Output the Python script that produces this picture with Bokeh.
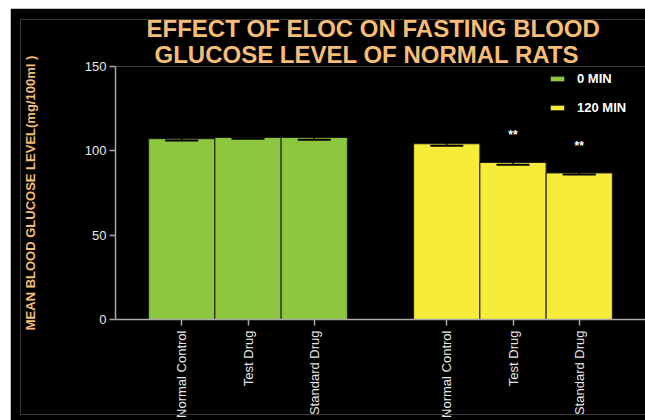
import math

from bokeh.plotting import figure
from bokeh.models import (ColumnDataSource, Whisker, TeeHead, Title, Legend,
                          LegendItem, FixedTicker, InlineStyleSheet)
from bokeh.core.properties import value
from bokeh.embed import file_html
from bokeh.resources import INLINE

# ---- data -------------------------------------------------------------
groups = ["0 MIN", "120 MIN"]
treatments = ["Normal Control", "Test Drug", "Standard Drug"]
glucose_0min = [107.2, 107.9, 107.9]
sem_0min = [1.0, 0.8, 1.3]
glucose_120min = [104.2, 93.1, 86.9]
sem_120min = [1.2, 1.4, 1.0]
significance_120min = ["", "**", "**"]
y_ticks = [0, 50, 100, 150]
title_lines = ["EFFECT OF ELOC ON FASTING BLOOD", "GLUCOSE LEVEL OF NORMAL RATS"]
y_label = "MEAN BLOOD GLUCOSE LEVEL(mg/100ml )"

group_colors = ["#8DC63F", "#F8EC3A"]
title_color = "#F6BD77"
font = "Liberation Sans"

# thin dark frame drawn over the panel, open on the right
frame_css = InlineStyleSheet(css="""
:host::after {
  content: "";
  position: absolute;
  left: 10px; top: 11px; bottom: 5px; right: -20px;
  border: 1px solid #3a3a3a;
  pointer-events: none;
  z-index: 10;
}
""")

# ---- figure -----------------------------------------------------------
p = figure(width=635, height=412, margin=(8, 0, 0, 10),
           x_range=(0, 8), y_range=(0, 150),
           output_backend="svg", toolbar_location=None,
           min_border_left=105, min_border_right=0,
           min_border_top=58, min_border_bottom=101,
           background_fill_color="black", border_fill_color="black",
           outline_line_color=None, stylesheets=[frame_css])
p.xgrid.visible = False
p.ygrid.visible = False

# one slot per bar, an empty slot between the two time points
n = len(treatments)
tick_pos, tick_names = [], {}
legend_items = []
for g, (name, vals, sems, color) in enumerate(zip(
        groups, [glucose_0min, glucose_120min], [sem_0min, sem_120min],
        group_colors)):
    xs = [g * (n + 1) + i + 1 for i in range(n)]
    marks = significance_120min if g == 1 else [""] * n
    src = ColumnDataSource(dict(
        x=xs, top=vals,
        upper=[v + s for v, s in zip(vals, sems)],
        lower=[v - s for v, s in zip(vals, sems)],
        star_y=[v + s + 15 for v, s in zip(vals, sems)],
        mark=marks))
    r = p.vbar(x="x", top="top", width=1, source=src, fill_color=color,
               line_color="#1c1c1c", line_width=1)
    legend_items.append(LegendItem(label=name, renderers=[r]))
    p.add_layout(Whisker(base="x", upper="upper", lower="lower", source=src,
                         line_color="black", line_width=1.5, level="annotation",
                         upper_head=TeeHead(size=33, line_color="black", line_width=2),
                         lower_head=TeeHead(size=33, line_color="black", line_width=2)))
    p.text(x="x", y="star_y", text="mark", source=src, text_color="white",
           text_font=value(font), text_font_style="bold", text_font_size="12px",
           text_align="center", text_baseline="middle")
    tick_pos += xs
    for x, t in zip(xs, treatments):
        tick_names[x] = t

# ---- axes -------------------------------------------------------------
axis_color = "#a8a8a8"
for ax in (p.xaxis[0], p.yaxis[0]):
    ax.axis_line_color = axis_color
    ax.axis_line_width = 1.5
    ax.major_tick_line_color = axis_color
    ax.major_tick_line_width = 1.5
    ax.major_tick_out = 6
    ax.major_tick_in = 0
    ax.minor_tick_line_color = None
    ax.major_label_text_font = font
    ax.major_label_text_font_size = "13px"
    ax.major_label_text_color = "#e8e8e8"

p.yaxis.ticker = FixedTicker(ticks=y_ticks)
p.yaxis.major_label_standoff = 3
p.yaxis.axis_label = y_label
p.yaxis.axis_label_text_color = title_color
p.yaxis.axis_label_text_font = font
p.yaxis.axis_label_text_font_style = "bold"
p.yaxis.axis_label_text_font_size = "13px"
p.yaxis.axis_label_standoff = 44

p.xaxis.ticker = FixedTicker(ticks=tick_pos)
p.xaxis.major_label_overrides = tick_names
p.xaxis.major_label_orientation = math.pi / 2
p.xaxis.major_label_standoff = 5

# ---- two-line title (inner line added first) ---------------------------
for text, off, stand in [(title_lines[1], 39, -3), (title_lines[0], 31, -3)]:
    p.add_layout(Title(text=text, align="left", offset=off, standoff=stand,
                       text_color=title_color, text_font=font,
                       text_font_style="bold", text_font_size="24px",
                       background_fill_color=None), "above")

# ---- legend -----------------------------------------------------------
legend = Legend(items=legend_items, location=(433, 204),
                glyph_width=18, glyph_height=7, label_height=14,
                spacing=14, padding=0, margin=0, label_standoff=11,
                label_text_color="white", label_text_font=font,
                label_text_font_style="bold", label_text_font_size="13px",
                background_fill_alpha=0, border_line_alpha=0)
p.add_layout(legend)

open("out.html", "w").write(file_html(p, INLINE))
